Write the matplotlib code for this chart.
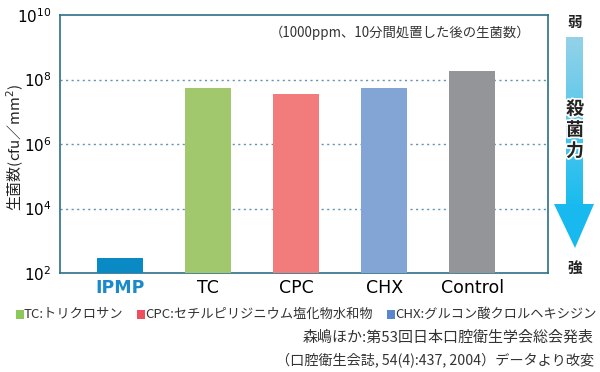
import numpy as np
import matplotlib.pyplot as plt
from matplotlib.patches import Polygon, Rectangle
from matplotlib.colors import LinearSegmentedColormap
from matplotlib import patheffects as pe

plt.rcParams['font.family'] = ['Noto Sans CJK JP', 'DejaVu Sans']

categories = ['IPMP', 'TC', 'CPC', 'CHX', 'Control']
counts = [290, 5.4e7, 3.5e7, 5.4e7, 1.8e8]  # cfu/mm2
colors = ['#0A8AC4', '#A2C86E', '#F27B7B', '#82A5D6', '#939598']
yticks = [1e2, 1e4, 1e6, 1e8, 1e10]
ytick_labels = ['$10^{2}$', '$10^{4}$', '$10^{6}$', '$10^{8}$', '$10^{10}$']
legend_items = [('TC:トリクロサン', '#8DC85A', 16),
                ('CPC:セチルピリジニウム塩化物水和物', '#EE4F5E', 137),
                ('CHX:グルコン酸クロルヘキシジン', '#5A86CC', 387)]

W, H = 600, 372
fig = plt.figure(figsize=(6, 3.72), dpi=100)

# main axes, placed in pixels
left, right, top, bottom = 60, 548, 15, 273
ax = fig.add_axes([left / W, (H - bottom) / H, (right - left) / W, (bottom - top) / H])
x = np.arange(len(categories))
ax.bar(x, counts, width=0.52, color=colors, zorder=3)
ax.set_yscale('log')
ax.set_ylim(1e2, 1e10)
ax.set_xlim(-0.68, 4.86)
ax.set_yticks(yticks)
ax.set_yticklabels(ytick_labels, fontsize=11, family='DejaVu Sans')
ax.minorticks_off()
ax.tick_params(axis='y', length=0, pad=6)
ax.tick_params(axis='x', length=0, pad=4)
ax.set_xticks(x)
ax.set_xticklabels(categories, fontsize=12.5, family='DejaVu Sans')
lab = ax.get_xticklabels()[0]
lab.set_color('#1B8AC8')
lab.set_fontweight('bold')
for s in ax.spines.values():
    s.set_color('#2E6E86')
    s.set_linewidth(1.2)
for v in [1e4, 1e6, 1e8]:
    ax.axhline(v, color='#5F92B2', lw=1, ls=(0, (1.5, 2.5)), zorder=1)
ax.text(0.963, 0.93, '（1000ppm、10分間処置した後の生菌数）', transform=ax.transAxes,
        ha='right', va='center', fontsize=9.6, color='#333333')

# overlay in pixel coords
ar = fig.add_axes([0, 0, 1, 1], zorder=5)
ar.set_xlim(0, W)
ar.set_ylim(H, 0)
ar.axis('off')

ar.text(15, 147, '生菌数(cfu／mm$^2$)', rotation=90, ha='center', va='center',
        fontsize=10.8, color='#222222')

# strength arrow
grad = np.linspace(0, 1, 200).reshape(-1, 1)
cmap = LinearSegmentedColormap.from_list('g', ['#94D2E8', '#19BCEE'])
ar.imshow(grad, cmap=cmap, extent=(566, 583, 205, 37), aspect='auto', zorder=1)
ar.add_patch(Polygon([(554, 204), (594, 204), (575, 248)], closed=True,
                     facecolor='#17B9EE', edgecolor='none', zorder=2))
ar.text(575, 22, '弱', ha='center', va='center', fontsize=10.5, fontweight='bold', color='#222222')
ar.text(575, 268, '強', ha='center', va='center', fontsize=10.5, fontweight='bold', color='#222222')
for ch, yy in zip('殺菌力', [109, 130, 151]):
    ar.text(575, yy, ch, ha='center', va='center', fontsize=13, fontweight='bold',
            color='#222222', zorder=3,
            path_effects=[pe.withStroke(linewidth=2.5, foreground='white')])

# legend row
for txt, c, x0 in legend_items:
    ar.add_patch(Rectangle((x0, 309.5), 7.5, 9, facecolor=c, edgecolor='none'))
    ar.text(x0 + 8, 314, txt, ha='left', va='center', fontsize=9.5, color='#333333')

# source
ar.text(594, 338, '森嶋ほか:第53回日本口腔衛生学会総会発表', ha='right', va='center',
        fontsize=10.8, color='#333333')
ar.text(594, 360, '（口腔衛生会誌, 54(4):437, 2004）データより改変', ha='right', va='center',
        fontsize=10.2, color='#333333')

fig.savefig('out.png', dpi=100)
